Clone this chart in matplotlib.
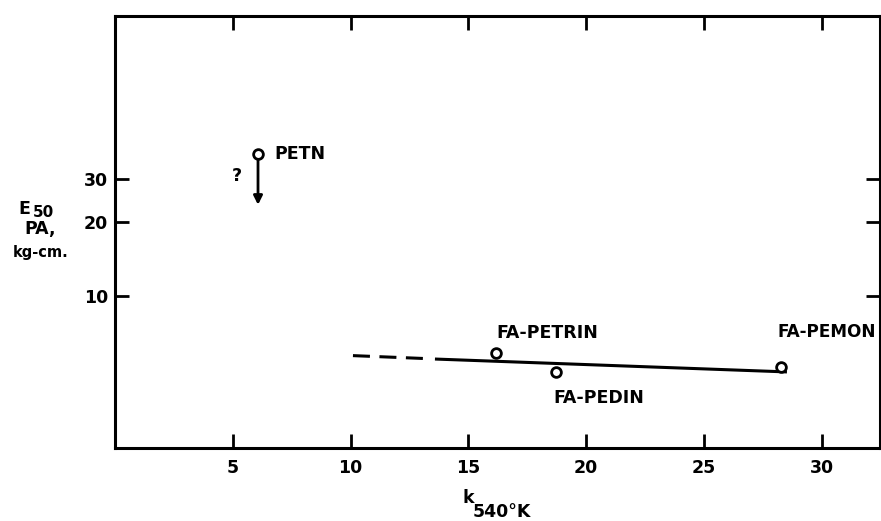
import matplotlib
matplotlib.use("Agg")
import matplotlib.pyplot as plt
from matplotlib.ticker import FixedLocator, NullLocator, FixedFormatter

# ---- data ----
compounds = ["PETN", "FA-PETRIN", "FA-PEDIN", "FA-PEMON"]
k540 = [6.07, 16.17, 18.72, 28.27]
e50 = [37.9, 5.86, 4.90, 5.14]

petn_arrow_end = 23.5          # upper-limit arrow for PETN ("?")

fit_dash_x = [10.10, 13.07]
fit_dash_y = [5.71, 5.56]
fit_solid_x = [13.58, 28.52]
fit_solid_y = [5.53, 4.90]

xticks = [5, 10, 15, 20, 25, 30]
xticklabels = ["5", "10", "15", "20", "25", "30"]
yticks = [10, 20, 30]
yticklabels = ["10", "20", "30"]

W, H = 881, 521
FONT = "DejaVu Sans"

fig = plt.figure(figsize=(W / 100, H / 100), dpi=100)
ax = fig.add_axes([115 / W, 1 - 448 / H, (880 - 115) / W, (448 - 16) / H])
ax.set_yscale("log")
ax.set_xlim(0, 32.47)
ax.set_ylim(2.40, 138.2)

for s in ax.spines.values():
    s.set_linewidth(2.2)
    s.set_color("black")

ax.xaxis.set_major_locator(FixedLocator(xticks))
ax.xaxis.set_major_formatter(FixedFormatter(xticklabels))
ax.xaxis.set_minor_locator(NullLocator())
ax.yaxis.set_major_locator(FixedLocator(yticks))
ax.yaxis.set_major_formatter(FixedFormatter(yticklabels))
ax.yaxis.set_minor_locator(NullLocator())

ax.tick_params(axis="x", which="major", direction="in", length=10, width=2,
               top=True, bottom=True, labelsize=12.5, pad=8)
ax.tick_params(axis="y", which="major", direction="in", length=10, width=2,
               left=True, right=True, labelsize=12.5, pad=5)
for lab in ax.get_xticklabels() + ax.get_yticklabels():
    lab.set_fontfamily(FONT)
    lab.set_fontweight("bold")

# fit line
ax.plot(fit_dash_x, fit_dash_y, color="black", lw=2.2, dashes=(5.56, 3.11),
        dash_capstyle="butt", solid_capstyle="butt")
ax.plot(fit_solid_x, fit_solid_y, color="black", lw=2.2, solid_capstyle="butt")

# data points
ax.plot(k540, e50, linestyle="none", marker="o", markersize=7,
        markerfacecolor="white", markeredgecolor="black", markeredgewidth=2, zorder=5)

# PETN arrow
ax.annotate("", xy=(k540[0], petn_arrow_end), xytext=(k540[0], e50[0] * 0.96),
            arrowprops=dict(arrowstyle="-|>", color="black", lw=2,
                            mutation_scale=13, shrinkA=0, shrinkB=0))

txt = dict(fontfamily=FONT, fontweight="bold", fontsize=12.5, color="black")
# point labels (offset in points from the data markers)
ax.annotate("PETN", (k540[0], e50[0]), xytext=(12, 0), textcoords="offset points",
            ha="left", va="center", **txt)
ax.annotate("?", (k540[0], e50[0]), xytext=(-15, -16), textcoords="offset points",
            ha="center", va="center", **txt)
ax.annotate("FA-PETRIN", (k540[1], e50[1]), xytext=(0, 14.5), textcoords="offset points",
            ha="left", va="center", **txt)
ax.annotate("FA-PEDIN", (k540[2], e50[2]), xytext=(-2, -18.7), textcoords="offset points",
            ha="left", va="center", **txt)
ax.annotate("FA-PEMON", (k540[3], e50[3]), xytext=(-2.5, 25), textcoords="offset points",
            ha="left", va="center", annotation_clip=False,
            fontfamily=FONT, fontweight="bold", fontsize=12.2, color="black")

# axis labels (baseline placement)
fig.text(18 / W, 1 - 214.5 / H, "E", ha="left", va="baseline", **txt)
fig.text(33 / W, 1 - 217.5 / H, "50", ha="left", va="baseline",
         fontfamily=FONT, fontweight="bold", fontsize=11, color="black")
fig.text(40 / W, 1 - 234 / H, "PA,", ha="center", va="baseline", **txt)
fig.text(41 / W, 1 - 257 / H, "kg-cm.", ha="center", va="baseline",
         fontfamily=FONT, fontweight="bold", fontsize=10.5, color="black")

fig.text(463 / W, 1 - 503 / H, "k", ha="left", va="baseline", **txt)
fig.text(473 / W, 1 - 517 / H, "540°K", ha="left", va="baseline", **txt)

fig.savefig("out.png", dpi=100)
